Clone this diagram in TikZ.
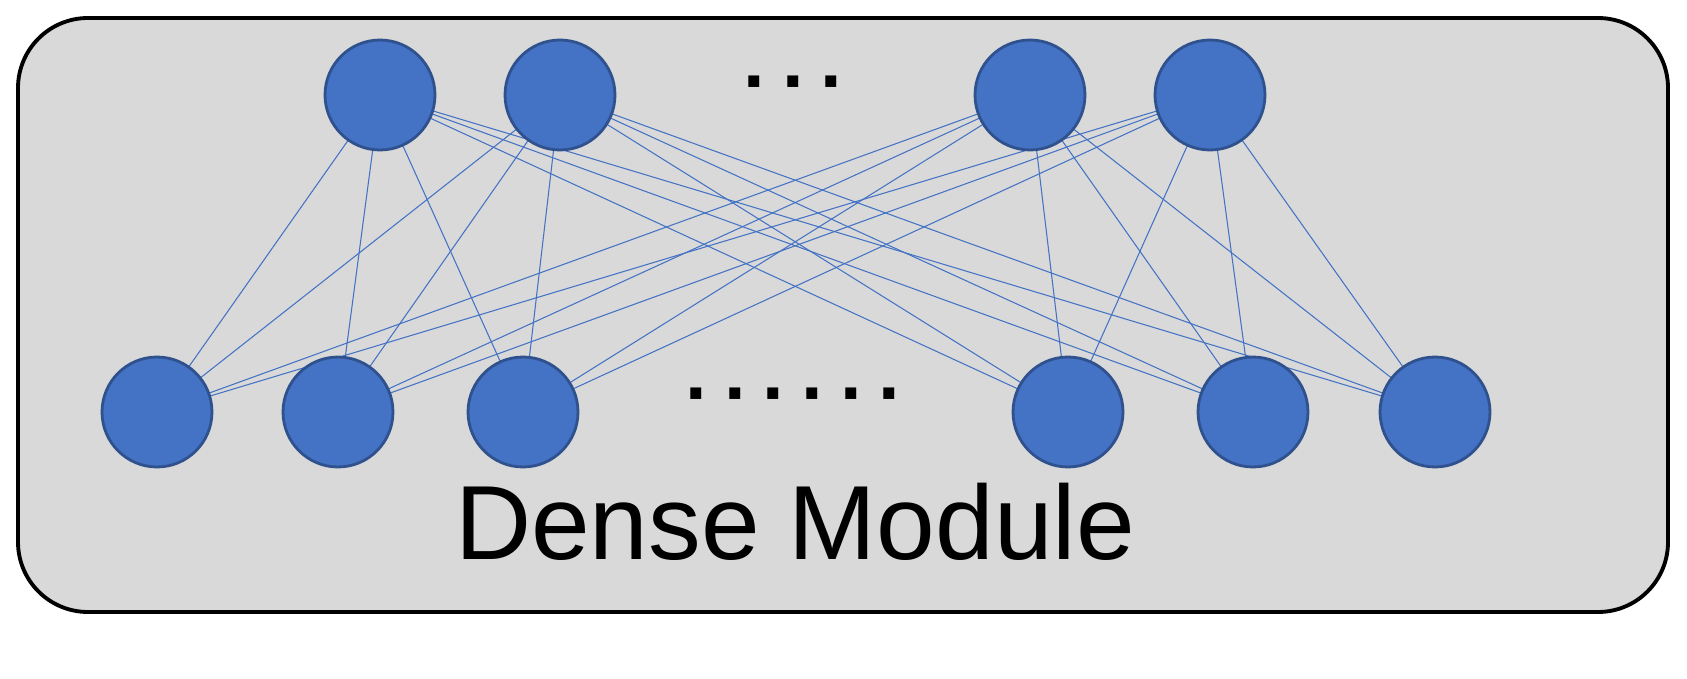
\documentclass[tikz,border=0pt]{standalone}
\usepackage{fontspec}
\setmainfont{Liberation Sans}
\begin{document}
\begin{tikzpicture}[x=0.02cm,y=-0.02cm,
  neuron/.style={circle,fill=nblue,draw=nborder,line width=1.6pt,minimum size=2.2cm,inner sep=0pt},
  conn/.style={draw=nblue,line width=0.6pt},
  dots/.style={font=\fontsize{44}{50}\selectfont\bfseries}]
\definecolor{nblue}{HTML}{4472C4}
\definecolor{nborder}{HTML}{2F528F}
\useasboundingbox (0,0) rectangle (1687,679);
\draw[fill=gray!30,line width=2.2pt,rounded corners=1.4cm] (18,18) rectangle (1668,612);
\foreach \n/\x in {t1/380,t2/560,t3/1030,t4/1210}
  \coordinate (\n) at (\x,95);
\foreach \n/\x in {b1/157,b2/338,b3/523,b4/1068,b5/1253,b6/1435}
  \coordinate (\n) at (\x,412);
\foreach \t in {t1,t2,t3,t4}
  \foreach \b in {b1,b2,b3,b4,b5,b6}
    \draw[conn] (\t) -- (\b);
\foreach \n in {t1,t2,t3,t4,b1,b2,b3,b4,b5,b6}
  \node[neuron] (n\n) at (\n) {};
\node[dots] (d1) at (795,92) {·\,·\,·};
\node[dots] (d2) at (795,404) {·\,·\,·\,·\,·\,·};
\node[font=\fontsize{60}{72}\selectfont] (lbl) at (795,522) {Dense Module};
\end{tikzpicture}
\end{document}
